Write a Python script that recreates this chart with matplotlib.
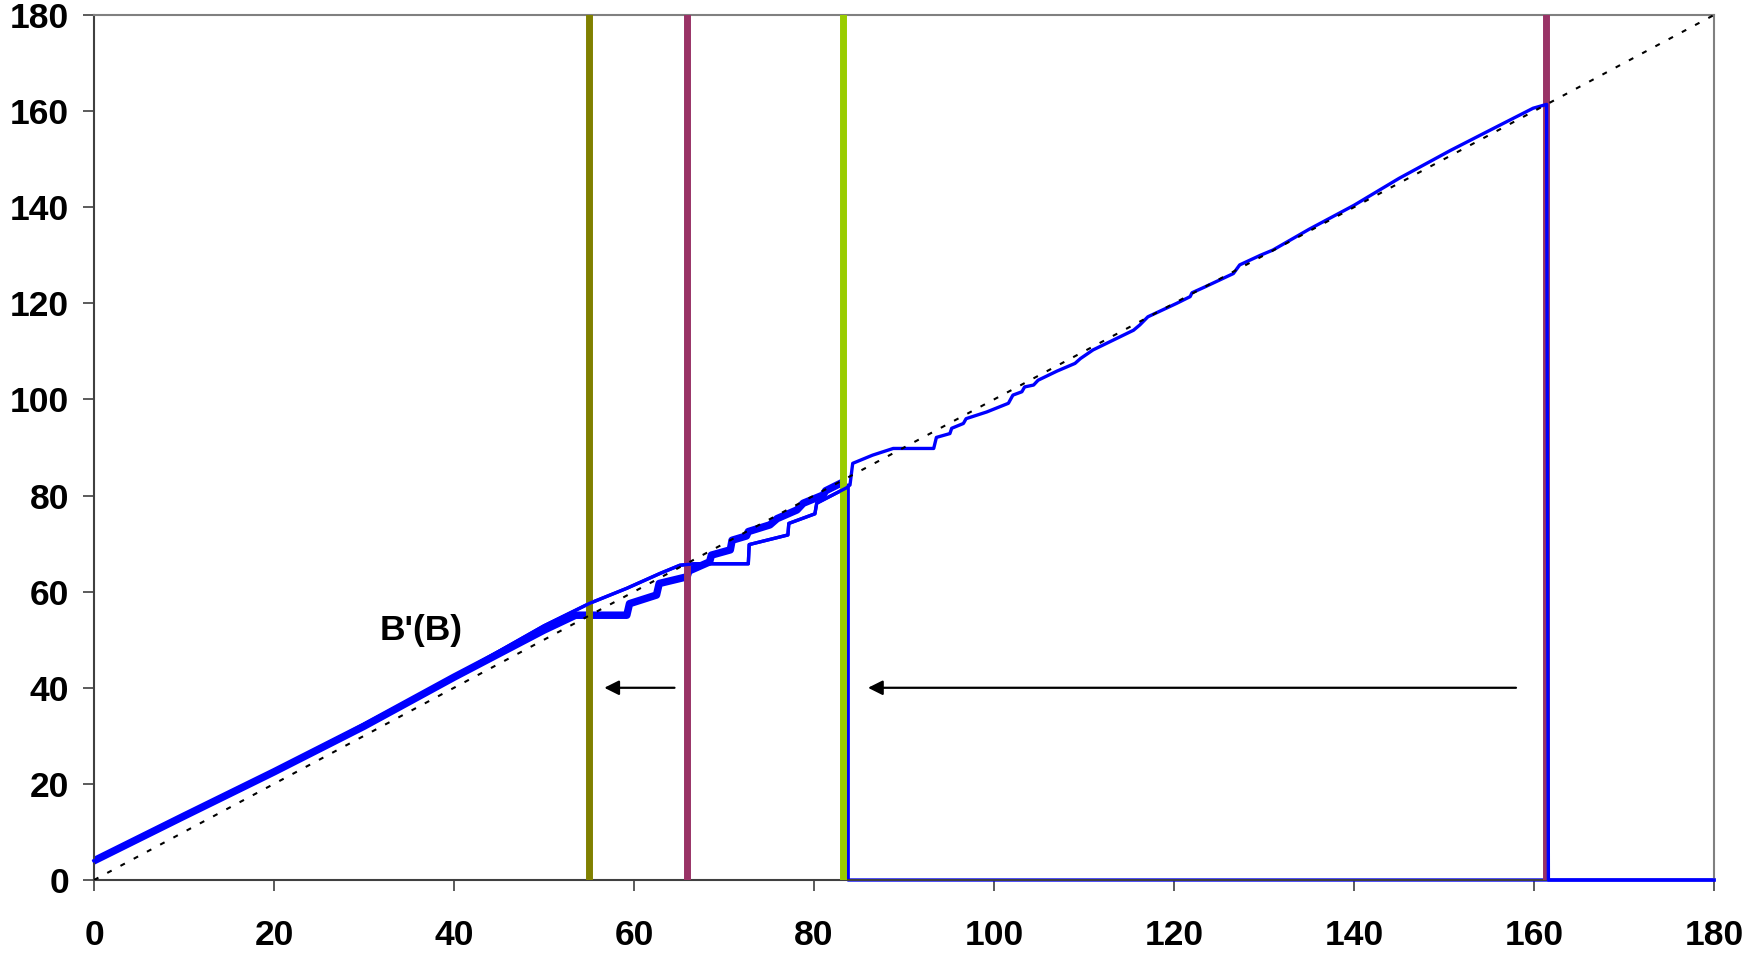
import matplotlib
matplotlib.use("Agg")
import matplotlib.pyplot as plt

plt.rcParams['font.family'] = ['Liberation Sans', 'DejaVu Sans']
plt.rcParams['font.weight'] = 'bold'

# thick curve B'(B)
thick_x = [0, 10, 20, 30, 40, 50, 53.5, 59.2, 59.5, 62.5, 62.8, 65.9, 66.1,
           68.4, 68.6, 70.7, 70.9, 72.5, 72.7, 75.1, 75.9, 78.1, 78.8, 81.0,
           81.3, 82.9]
thick_y = [4, 13.3, 22.5, 32.0, 42.2, 52.0, 55.1, 55.1, 57.5, 59.3, 61.7, 63.1,
           64.3, 66.2, 67.6, 68.7, 70.7, 71.6, 72.5, 73.9, 75.2, 77.0, 78.4,
           80.1, 81.0, 82.5]

# thin curve dropping to zero at the green line
thin1_x = [0, 20, 40, 45, 50, 55.1, 59.2, 62.9, 65.1, 66.7, 72.7, 72.8, 77.1,
           77.2, 80.1, 80.3, 83.6, 83.8, 83.8, 180]
thin1_y = [4, 22.5, 42.3, 47.6, 52.9, 57.6, 60.7, 63.8, 65.5, 65.8, 65.8, 69.8,
           71.8, 74.2, 76.2, 78.4, 81.6, 82.2, 0, 0]

# thin curve continuing to the right purple line
thin2_x = [0, 20, 40, 45, 50, 55.1, 59.2, 62.9, 65.1, 66.7, 72.7, 72.8, 77.1,
           77.2, 80.1, 80.3, 83.6, 84.0, 84.3, 86.5, 88.8, 93.3, 93.6, 95.1,
           95.3, 96.6, 96.9, 99.2, 101.6, 102.1, 103.1, 103.4, 104.4, 104.9,
           107.0, 109.0, 109.6, 111.0, 115.5, 116.2, 117.1, 120.3, 121.8,
           122.0, 123.3, 126.6, 127.3, 129.6, 131.0, 135, 140, 145, 150.7,
           155.5, 159.9, 161.4, 161.6, 180]
thin2_y = [4, 22.5, 42.3, 47.6, 52.9, 57.6, 60.7, 63.8, 65.5, 65.8, 65.8, 69.8,
           71.8, 74.2, 76.2, 78.4, 81.6, 82.2, 86.7, 88.4, 89.8, 89.8, 92.1,
           92.9, 94.0, 95.0, 96.0, 97.4, 99.2, 100.9, 101.6, 102.6, 103.0,
           104.0, 105.9, 107.5, 108.5, 110.3, 114.4, 115.5, 117.2, 120.0,
           121.4, 122.2, 123.3, 126.2, 128.0, 130.0, 131.1, 135.4, 140.4,
           146.0, 151.8, 156.4, 160.6, 161.4, 0, 0]

diag = [0, 180]

vlines_x = [55, 65.9, 83.2, 161.3]
vlines_c = ['#808000', '#993366', '#99CC00', '#993366']

arrows = [(64.5, 56.7), (158.0, 86.0)]
arrow_y = 40

ticks = list(range(0, 181, 20))

fig = plt.figure(figsize=(17.48, 9.56), dpi=100)
ax = fig.add_axes([94 / 1748, 1 - 880 / 956, 1620 / 1748, 865 / 956])

ax.plot(thick_x, thick_y, color='#0000FF', lw=5.4, zorder=2,
        solid_joinstyle='round')
ax.plot(thin1_x, thin1_y, color='#0000FF', lw=2.4, zorder=2, clip_on=False)
for x, c in zip(vlines_x, vlines_c):
    ax.axvline(x, color=c, lw=5, zorder=3)
ax.plot(thin2_x, thin2_y, color='#0000FF', lw=2.4, zorder=4, clip_on=False)
ax.plot(diag, diag, color='black', lw=1.5, dashes=(2.4, 4.8), zorder=5)

for x0, x1 in arrows:
    ax.annotate('', xy=(x1, arrow_y), xytext=(x0, arrow_y),
                arrowprops=dict(arrowstyle='-|>', color='black', lw=1.6,
                                mutation_scale=22, shrinkA=0, shrinkB=0))

ax.text(36.4, 52, "B'(B)", fontsize=25.5, fontweight='bold',
        ha='center', va='center')

ax.set_xlim(0, 180)
ax.set_ylim(0, 180)
ax.set_xticks(ticks)
ax.set_yticks(ticks)

for side in ['left', 'bottom']:
    ax.spines[side].set_color('#404040')
    ax.spines[side].set_linewidth(1.5)
for side in ['top', 'right']:
    ax.spines[side].set_color('#808080')
    ax.spines[side].set_linewidth(1.5)

ax.tick_params(axis='both', direction='out', length=8, width=1.2,
               color='#404040', labelsize=25.5)
ax.tick_params(axis='y', pad=10)
ax.tick_params(axis='x', pad=20)
for lab in ax.get_xticklabels() + ax.get_yticklabels():
    lab.set_fontweight('bold')

fig.savefig('out.png', dpi=100)
